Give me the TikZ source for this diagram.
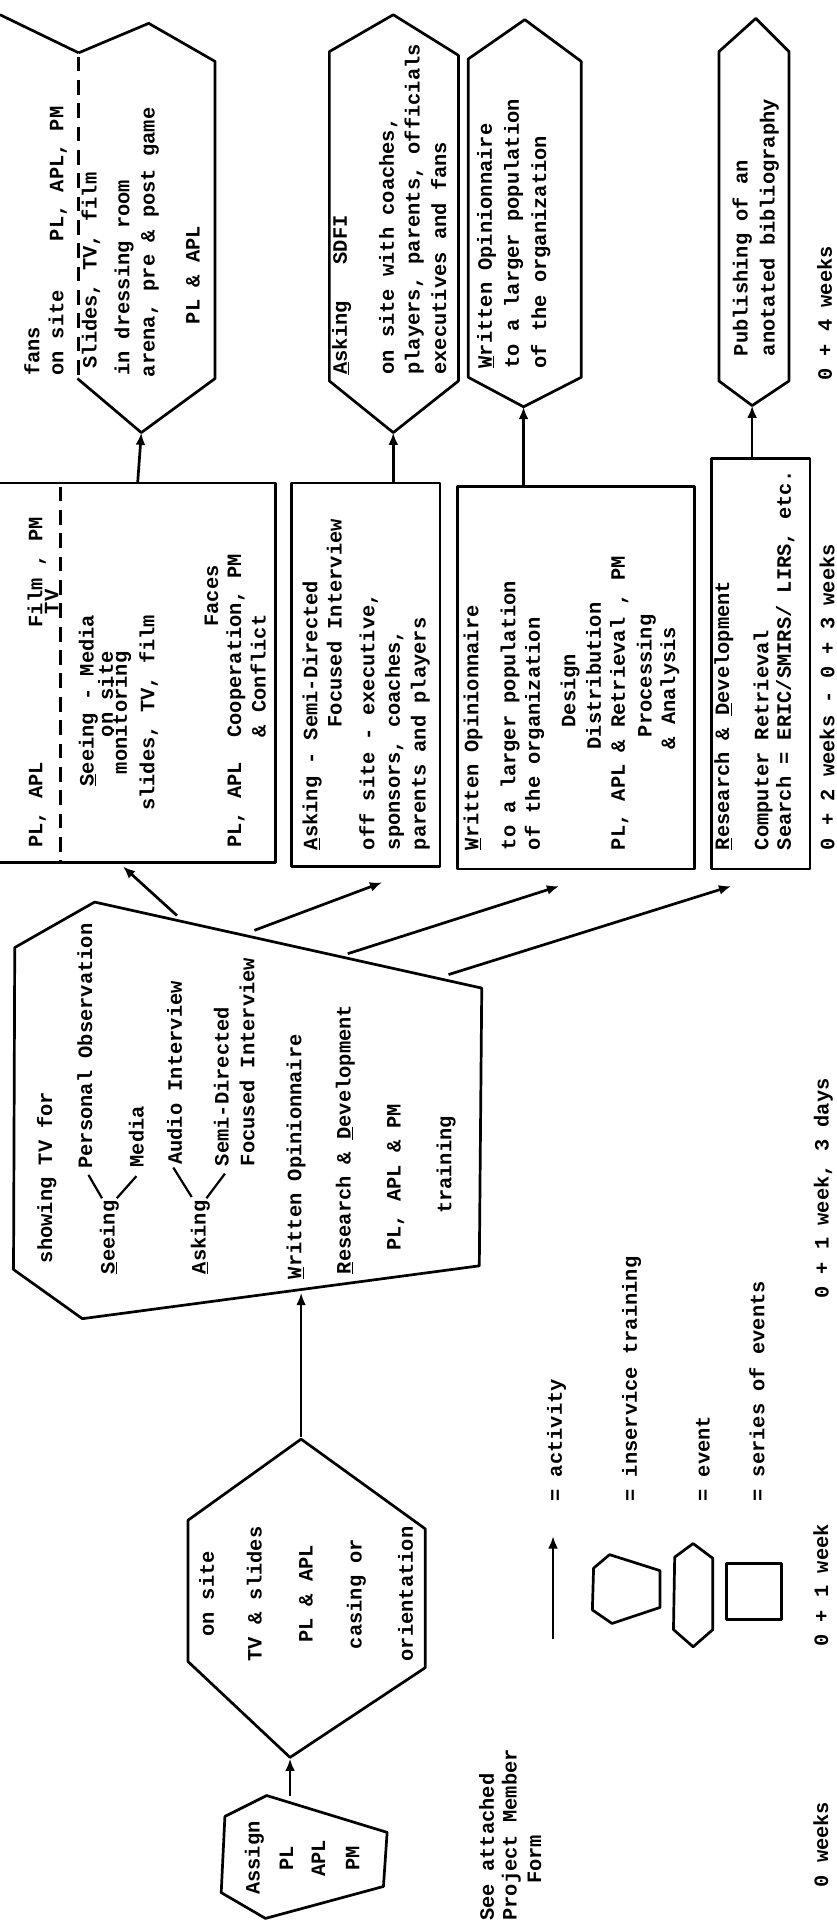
\documentclass[tikz,border=0pt]{standalone}
\usepackage{fontspec}
\newfontfamily\tw{Liberation Mono}
\usetikzlibrary{arrows.meta}
\tikzset{
  txt/.style={font={\tw\bfseries\fontsize{16.6}{18}\selectfont}, rotate=90, anchor=west, inner sep=0pt},
  ctxt/.style={txt, anchor=center},
  shp/.style={draw=black, line width=2.2pt, line join=round},
  arr/.style={draw=black, line width=2.2pt, -{Latex[length=10pt,width=8pt]}},
  dsh/.style={draw=black, line width=2.2pt, dash pattern=on 12pt off 7pt},
  brl/.style={draw=black, line width=1.8pt},
}
\begin{document}
\begin{tikzpicture}[x=1pt,y=-1pt]
\fill[white] (0,0) rectangle (681,1568);
\useasboundingbox (0,0) rectangle (681,1568);

% ---------- top row: events ----------
% E1 Seeing event
\draw[shp] (0,12) -- (64,43);
\draw[shp] (64,43) -- (121,19) -- (175,50) -- (175,308) -- (115,352) -- (63,308);
\draw[dsh] (64,46) -- (64,306);
\node[txt] (e1a) at (26,306) {fans};
\node[txt] (e1b) at (47,306) {on site~~~~PL, APL, PM};
\node[txt] (e1c) at (74,300) {Slides, TV, film};
\node[txt] (e1d) at (101,306) {in dressing room};
\node[txt] (e1e) at (122,307) {arena, pre \& post game};
\node[txt] (e1f) at (157,264) {PL \& APL};
\coordinate (E1b) at (115,352);

% E2 Asking event
\draw[shp] (268,42) -- (320,12) -- (373,45) -- (373,310) -- (320,352) -- (268,310) -- cycle;
\node[txt] (e2a) at (278,305) {\underline{A}sking~~~SDFI};
\node[txt] (e2b) at (316,305) {on site with coaches,};
\node[txt] (e2c) at (337,305) {players, parents, officials};
\node[txt] (e2d) at (357,305) {executives and fans};
\coordinate (E2b) at (320,352);

% E3 Written event
\draw[shp] (381,48) -- (427,16) -- (473,50) -- (473,307) -- (426,331) -- (381,307) -- cycle;
\node[txt] (e3a) at (396,300) {\underline{W}ritten Opinionnaire};
\node[txt] (e3b) at (418,300) {to a larger population};
\node[txt] (e3c) at (440,300) {of the organization};
\coordinate (E3b) at (426,331);

% E4 Publishing event
\draw[shp] (585,42) -- (615,15) -- (642,42) -- (642,310) -- (612,330) -- (585,310) -- cycle;
\node[txt] (e4a) at (604,290) {Publishing of an};
\node[txt] (e4b) at (626,290) {anotated bibliography};
\coordinate (E4b) at (612,330);

% ---------- second row: series of events ----------
% S1 Seeing
\draw[shp] (0,393) -- (224,393) -- (224,702) -- (0,702);
\draw[dsh] (49,396) -- (49,702);
\node[txt] (s1a) at (30,690) {PL, APL~~~~~~~~~~~Film~, PM};
\node[txt] (s1b) at (42,500) {TV};
\node[txt] (s1c) at (72,640) {\underline{S}eeing - Media};
\node[txt] (s1d) at (86,600) {on site};
\node[txt] (s1e) at (99,630) {monitoring};
\node[txt] (s1f) at (121,660) {slides, TV, film};
\node[txt] (s1g) at (172,510) {Faces};
\node[txt] (s1h) at (192,690) {PL, APL~~Cooperation, PM};
\node[txt] (s1i) at (210,600) {\& Conflict};
\coordinate (S1t) at (112,393);
\coordinate (S1b) at (100,705);

% S2 Asking
\draw[shp] (237,393) rectangle (358,705);
\node[txt] (s2a) at (254,692) {\underline{A}sking - Semi-Directed};
\node[txt] (s2b) at (272,592) {Focused Interview};
\node[txt] (s2c) at (300,692) {off site - executive,};
\node[txt] (s2d) at (321,692) {sponsors, coaches,};
\node[txt] (s2e) at (342,692) {parents and players};
\coordinate (S2t) at (320,393);
\coordinate (S2b) at (311,718);

% S3 Written
\draw[shp] (372,396) rectangle (565,707);
\node[txt] (s3a) at (385,692) {\underline{W}ritten Opinionnaire};
\node[txt] (s3b) at (415,692) {to a larger population};
\node[txt] (s3c) at (435,692) {of the organization};
\node[txt] (s3d) at (464,592) {Design};
\node[txt] (s3e) at (483,610) {Distribution};
\node[txt] (s3f) at (504,692) {PL, APL~\& Retrieval , PM};
\node[txt] (s3g) at (526,600) {Processing};
\node[txt] (s3h) at (545,610) {\& Analysis};
\coordinate (S3t) at (426,396);
\coordinate (S3b) at (455,721);

% S4 Research
\draw[shp] (579,373) rectangle (659,707);
\node[txt] (s4a) at (589,692) {\underline{R}esearch \& \underline{D}evelopment};
\node[txt] (s4b) at (621,692) {Computer Retrieval};
\node[txt] (s4c) at (639,692) {Search = ERIC/SMIRS/ LIRS, etc.};
\coordinate (S4t) at (612,373);
\coordinate (S4b) at (595,721);

% arrows row2 -> row1
\draw[arr] (S1t) -- (E1b);
\draw[arr] (S2t) -- (E2b);
\draw[arr] (S3t) -- (E3b);
\draw[arr] (S4t) -- (E4b);

% ---------- training (inservice) ----------
\draw[shp] (77,734) -- (12,771) -- (11,1033) -- (67,1073) -- (390,1030) -- (392,804) -- cycle;
\node[txt] (ta) at (38,1028) {showing TV for};
\node[txt] (tb) at (89,1037) {\underline{S}eeing};
\node[txt] (tc) at (69,951) {Personal Observation};
\node[txt] (td) at (111,950) {Media};
\node[txt] (te) at (163,1037) {\underline{A}sking};
\node[txt] (tf) at (142,948) {Audio Interview};
\node[txt] (tg) at (180,949) {Semi-Directed};
\node[txt] (th) at (201,949) {Focused Interview};
\node[txt] (ti) at (241,1041) {\underline{W}ritten Opinionnaire};
\node[txt] (tj) at (281,1037) {\underline{R}esearch \& \underline{D}evelopment};
\node[txt] (tk) at (322,1018) {PL, APL \& PM};
\node[txt] (tl) at (363,988) {training};
\draw[brl] (83,975) -- (72,956);
\draw[brl] (95,975) -- (111,957);
\draw[brl] (156,974) -- (141,950);
\draw[brl] (168,975) -- (183,955);
\coordinate (T1) at (144,745);
\coordinate (T2) at (207,757);
\coordinate (T3) at (283,776);
\coordinate (T4) at (365,793);
\coordinate (Tb) at (245,1052);
\draw[arr] (T1) -- (S1b);
\draw[arr] (T2) -- (S2b);
\draw[arr] (T3) -- (S3b);
\draw[arr] (T4) -- (S4b);

% ---------- hexagon B ----------
\draw[shp] (245,1171) -- (346,1244) -- (346,1357) -- (236,1430) -- (153,1352) -- (153,1237) -- cycle;
\node[ctxt] (b1) at (168,1297) {on site};
\node[ctxt] (b2) at (207,1297) {TV \& slides};
\node[ctxt] (b3) at (249,1297) {PL \& APL};
\node[ctxt] (b4) at (290,1297) {casing or};
\node[ctxt] (b5) at (330,1297) {orientation};
\coordinate (Bt) at (245,1169);
\coordinate (Bb) at (236,1431);
\draw[arr] (Bt) -- (Tb);

% ---------- Assign ----------
\draw[shp] (217,1461) -- (183,1478) -- (180,1540) -- (216,1561) -- (312,1535) -- (315,1491) -- cycle;
\node[ctxt] (a1) at (207,1512) {Assign};
\node[ctxt] (a2) at (233,1512) {PL};
\node[ctxt] (a3) at (259,1512) {APL};
\node[ctxt] (a4) at (287,1512) {PM};
\coordinate (At) at (236,1461);
\draw[arr] (At) -- (Bb);

% ---------- note ----------
\node[txt] (n1) at (396,1563) {See attached};
\node[txt] (n2) at (416,1563) {Project Member};
\node[txt] (n3) at (435,1533) {Form};

% ---------- legend ----------
\coordinate (L0a) at (450,1334);
\coordinate (L0b) at (450,1250);
\draw[arr] (L0a) -- (L0b);
\node[txt] (l1) at (453,1222) {= activity};
\draw[shp] (496,1265) -- (483,1276) -- (482,1310) -- (498,1321) -- (537,1308) -- (537,1278) -- cycle;
\node[txt] (l2) at (514,1222) {= inservice training};
\draw[shp] (564,1256) -- (549,1267) -- (548,1326) -- (564,1340) -- (580,1326) -- (580,1268) -- cycle;
\node[txt] (l3) at (572,1222) {= event};
\draw[shp] (591,1272) rectangle (636,1318);
\node[txt] (l4) at (616,1222) {= series of events};

% ---------- time line ----------
\node[txt] (w0) at (668,1536) {0 weeks};
\node[txt] (w1) at (668,1340) {0 + 1 week};
\node[txt] (w2) at (670,1057) {0 + 1 week, 3 days};
\node[txt] (w3) at (673,692) {0 + 2 weeks - 0 + 3 weeks};
\node[txt] (w4) at (671,310) {0 + 4 weeks};
\end{tikzpicture}
\end{document}
